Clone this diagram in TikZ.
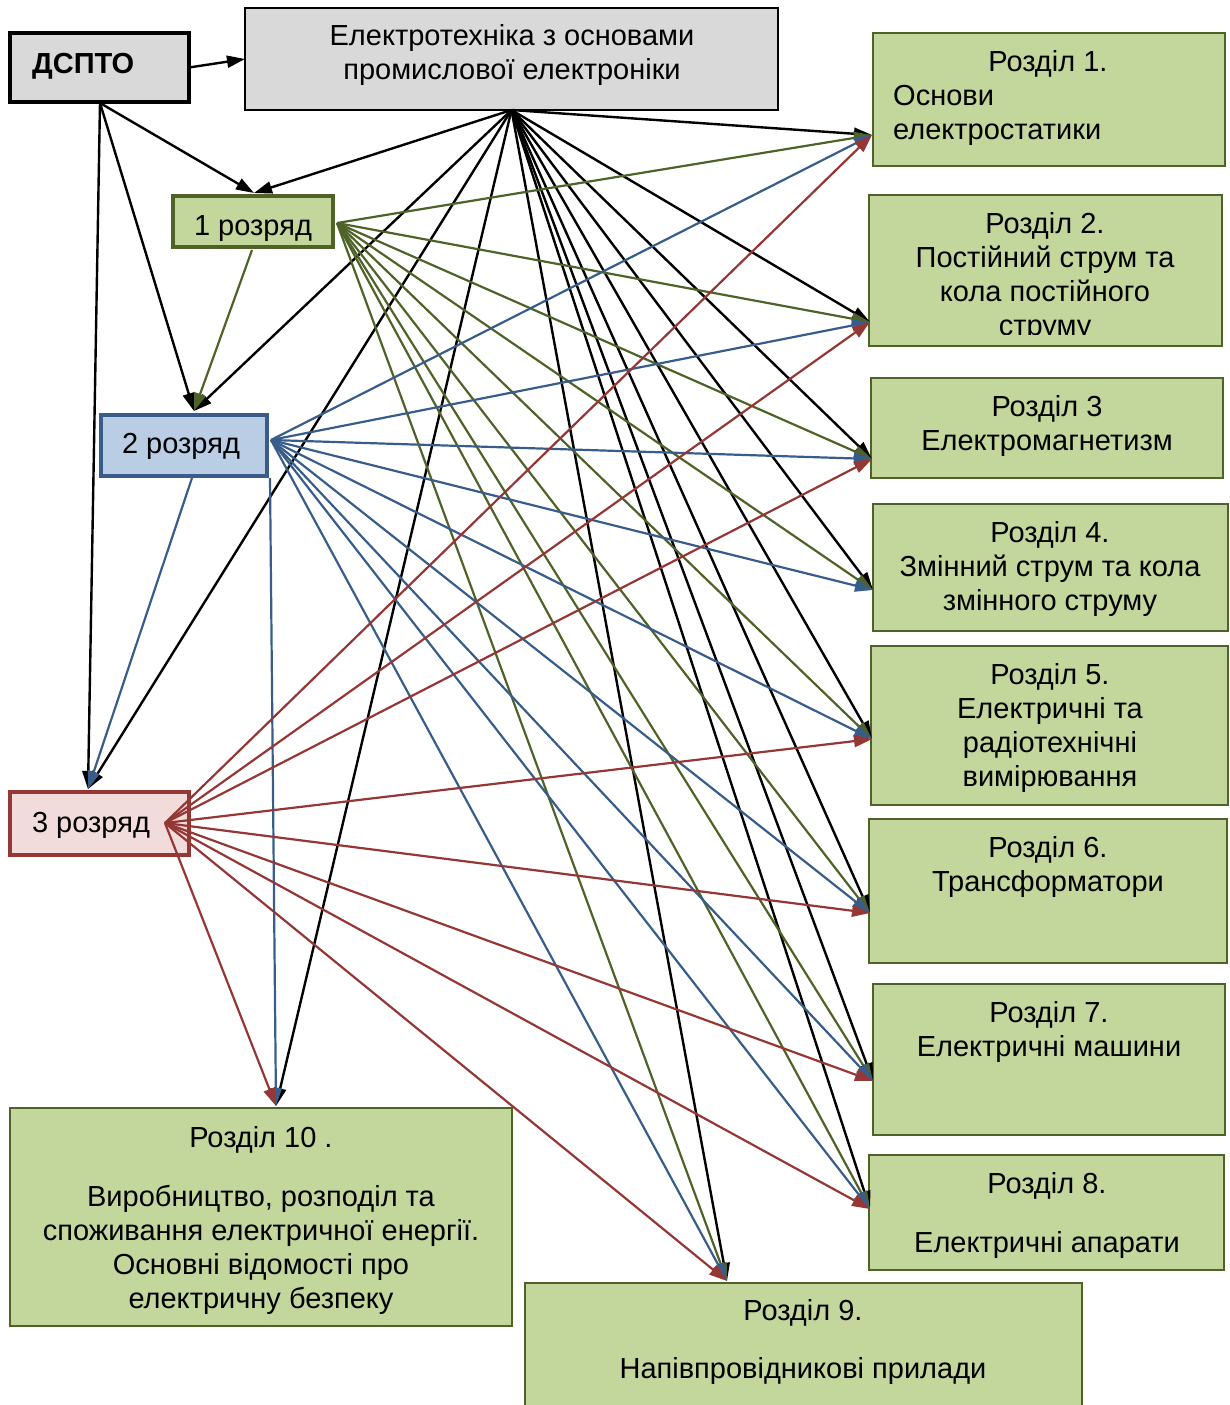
\documentclass[tikz,border=0pt]{standalone}
\usepackage{fontspec}
\setmainfont{Liberation Sans}
\usetikzlibrary{arrows.meta}
\definecolor{gfill}{HTML}{C3D69B}
\definecolor{gline}{HTML}{4F6228}
\definecolor{bfill}{HTML}{B9CDE5}
\definecolor{bline}{HTML}{385D8A}
\definecolor{pfill}{HTML}{F2DCDB}
\definecolor{rline}{HTML}{953735}
\definecolor{greyf}{HTML}{D9D9D9}
\newcommand\fsz{\fontsize{29}{34}\selectfont}
\begin{document}
\begin{tikzpicture}[x=1pt,y=-1pt,
  box/.style={rectangle, inner sep=0, outer sep=0},
  sec/.style={box, draw=gline, fill=gfill, line width=2pt},
  txt/.style={font=\fsz, align=center, inner sep=0, anchor=north},
  tip/.style={-{Triangle[length=18pt,width=12pt]}},
  blk/.style={tip, draw=black, line width=2.4pt},
  gr/.style={tip, draw=gline, line width=2.2pt},
  bl/.style={tip, draw=bline, line width=2.2pt},
  rd/.style={tip, draw=rline, line width=2.2pt}]
\useasboundingbox (0,0) rectangle (1229,1405);

% boxes
\node[box, draw=black, fill=greyf, line width=4pt, minimum width=179pt, minimum height=68pt] (dspto) at (99.5,67.5) {};
\node[box, draw=black, fill=greyf, line width=1.6pt, minimum width=533pt, minimum height=102pt] (main) at (511.5,59) {};
\node[box, draw=gline, fill=gfill, line width=4pt, minimum width=160pt, minimum height=51pt] (one) at (253,221.5) {};
\node[box, draw=bline, fill=bfill, line width=4pt, minimum width=166pt, minimum height=61pt] (two) at (184,445.5) {};
\node[box, draw=rline, fill=pfill, line width=4pt, minimum width=179pt, minimum height=63pt] (three) at (99.5,823.5) {};
\node[sec, minimum width=352pt, minimum height=133pt] (r1) at (1049,99.5) {};
\node[sec, minimum width=353pt, minimum height=151pt] (r2) at (1045.5,270.5) {};
\node[sec, minimum width=352pt, minimum height=100pt] (r3) at (1047,428) {};
\node[sec, minimum width=355pt, minimum height=127pt] (r4) at (1050.5,567.5) {};
\node[sec, minimum width=357pt, minimum height=159pt] (r5) at (1049.5,725.5) {};
\node[sec, minimum width=358pt, minimum height=144pt] (r6) at (1048,891) {};
\node[sec, minimum width=352pt, minimum height=151pt] (r7) at (1049,1059.5) {};
\node[sec, minimum width=355pt, minimum height=115pt] (r8) at (1046.5,1212.5) {};
\node[sec, minimum width=557pt, minimum height=137pt] (r9) at (803.5,1351.5) {};
\node[sec, minimum width=502pt, minimum height=218pt] (r10) at (261,1217) {};

% texts
\node[txt] (tmain) at (512,21.2) {\strut Електротехніка з основами\\промислової електроніки};
\node[txt, anchor=north west, font=\fsz\bfseries] (tdspto) at (32,49.2) {\strut ДСПТО};
\node[txt] (tone) at (253,211.2) {\strut 1 розряд};
\node[txt] (ttwo) at (181,429.2) {\strut 2 розряд};
\node[txt] (tthree) at (91,808.2) {\strut 3 розряд};
\node[txt] (tr1a) at (1048,47.2) {\strut Розділ 1.};
\node[txt, anchor=north west, align=left] (tr1b) at (893,81.2) {\strut Основи\\електростатики};
\begin{scope}
\clip (869,195) rectangle (1222,334);
\node[txt] (tr2) at (1045,209.2) {\strut Розділ 2.\\Постійний струм та\\кола постійного\\струму};
\end{scope}
\node[txt] (tr3) at (1047,392.2) {\strut Розділ 3\\Електромагнетизм};
\node[txt] (tr4) at (1050,518.2) {\strut Розділ 4.\\Змінний струм та кола\\змінного струму};
\node[txt] (tr5) at (1050,660.2) {\strut Розділ 5.\\Електричні та\\радіотехнічні\\вимірювання};
\node[txt] (tr6) at (1048,833.2) {\strut Розділ 6.\\Трансформатори};
\node[txt] (tr7) at (1049,998.2) {\strut Розділ 7.\\Електричні машини};
\node[txt] (tr8) at (1047,1169.2) {\strut Розділ 8.\\[25pt]Електричні апарати};
\node[txt] (tr9) at (803,1296.2) {\strut Розділ 9.\\[24pt]Напівпровідникові прилади};
\node[txt] (tr10) at (261,1123.2) {\strut Розділ 10 .\\[25pt]Виробництво, розподіл та\\споживання електричної енергії.\\Основні відомості про\\електричну безпеку};

% connector points
\coordinate (oneT) at (254,193);
\coordinate (twoT) at (194,411);
\coordinate (threeT) at (88,789);
\coordinate (r10T) at (276,1106);
\coordinate (r9T) at (727,1281);
\coordinate (r1L) at (872,135);
\coordinate (r2L) at (870,322);
\coordinate (r3L) at (872,459);
\coordinate (r4L) at (873,590);
\coordinate (r5L) at (872,739);
\coordinate (r6L) at (870,913);
\coordinate (r7L) at (873,1081);
\coordinate (r8L) at (870,1209);
\coordinate (f1) at (337,223);
\coordinate (f2) at (271,440);
\coordinate (f3) at (165,823);
\coordinate (oneB) at (252,250);
\coordinate (twoB) at (192,478);
\coordinate (twoBR) at (270,478);
\coordinate (dB) at (100,103);

% black
\draw[blk] (dspto.east) -- (main.west);
\foreach \t in {oneT,twoT,threeT} \draw[blk] (dB) -- (\t);
\foreach \t in {oneT,twoT,threeT,r10T,r1L,r2L,r3L,r4L,r5L,r6L,r7L,r8L,r9T}
  \draw[blk] (main.south) -- (\t);
% green
\draw[gr] (oneB) -- (twoT);
\foreach \t in {r1L,r2L,r3L,r4L,r5L,r6L,r7L,r8L,r9T}
  \draw[gr] (f1) -- (\t);
% blue
\draw[bl] (twoB) -- (threeT);
\draw[bl] (twoBR) -- (r10T);
\foreach \t in {r1L,r2L,r3L,r4L,r5L,r6L,r7L,r8L,r9T}
  \draw[bl] (f2) -- (\t);
% red
\foreach \t in {r1L,r2L,r3L,r5L,r6L,r7L,r8L,r9T,r10T}
  \draw[rd] (f3) -- (\t);
\end{tikzpicture}
\end{document}
